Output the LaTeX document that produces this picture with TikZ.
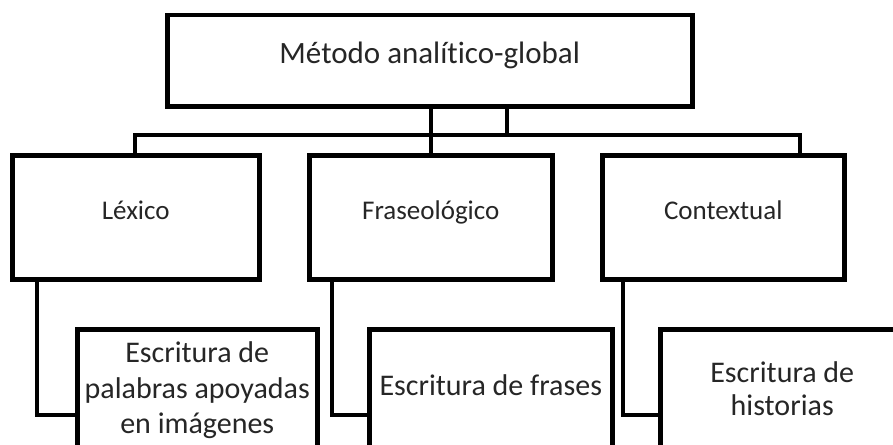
\documentclass[tikz,border=0pt]{standalone}
\usepackage{fontspec}
\setmainfont{Carlito}[Ligatures=NoCommon]
\definecolor{txt}{HTML}{262626}
\begin{document}
\begin{tikzpicture}[x=1pt,y=-1pt,
  box/.style={draw=black,line width=4.5pt,rectangle,inner sep=0pt,anchor=north west,
    text=txt,align=center},
  one/.style={text height=0.68em,text depth=0.2em},
  conn/.style={draw=black,line width=4.5pt,line cap=rect}]
\clip (0,0) rectangle (893,444);
\fill[white] (0,0) rectangle (893,444);
% top
\node[box,one,minimum width=525pt,minimum height=91pt,font=\fontsize{31}{36}\selectfont] (top) at (165,13) {Método analítico-global};
% level 2
\node[box,one,minimum width=247pt,minimum height=124pt,font=\fontsize{27}{32}\selectfont] (lex) at (10,153) {Léxico};
\node[box,one,minimum width=243pt,minimum height=124pt,font=\fontsize{27}{32}\selectfont] (fra) at (307,153) {Fraseológico};
\node[box,one,minimum width=242pt,minimum height=124pt,font=\fontsize{27}{32}\selectfont] (con) at (600,153) {Contextual};
% level 3
\node[box,minimum width=240pt,minimum height=122pt,font=\fontsize{30}{35.5}\selectfont] (e1) at (75,327) {Escritura de\\palabras apoyadas\\en imágenes};
\node[box,one,minimum width=243pt,minimum height=128pt,font=\fontsize{30}{35.5}\selectfont] (e2) at (367,327) {Escritura de frases};
\node[box,minimum width=244pt,minimum height=118pt,font=\fontsize{30}{33}\selectfont] (e3) at (658,327) {Escritura de\\historias};
% bus
\coordinate (bl) at (135,135);
\coordinate (br) at (800,135);
\coordinate (b2) at (507,135);
\draw[conn] (top.south -| fra.north) -- (fra.north);
\draw[conn] (top.south -| b2) -- (b2);
\draw[conn,line cap=butt] (lex.north -| bl) -- (bl) -- (br) -- (con.north -| br);
% elbows
\coordinate (k1) at (37,415);
\coordinate (k2) at (332,415);
\coordinate (k3) at (623,415);
\draw[conn,line cap=butt] (lex.south -| k1) -- (k1) -- (e1.west |- k1);
\draw[conn,line cap=butt] (fra.south -| k2) -- (k2) -- (e2.west |- k2);
\draw[conn,line cap=butt] (con.south -| k3) -- (k3) -- (e3.west |- k3);
\end{tikzpicture}
\end{document}
